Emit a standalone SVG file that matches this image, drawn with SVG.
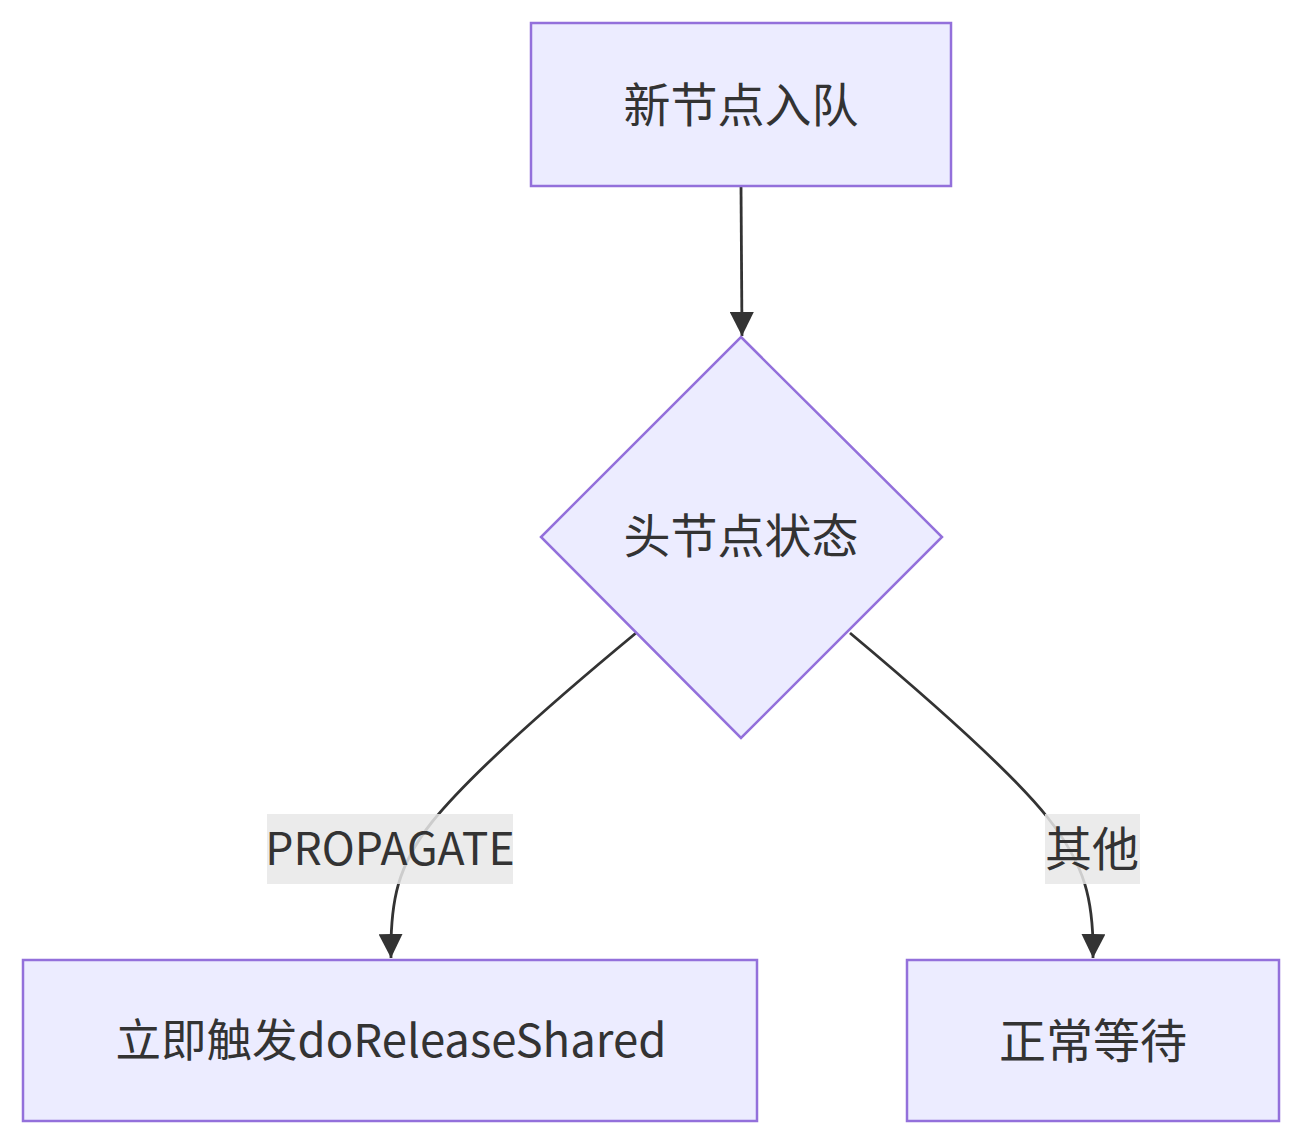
<svg xmlns="http://www.w3.org/2000/svg" width="1303" height="1146" viewBox="0 0 1303 1146">
<style>
.node{fill:#ECECFF;stroke:#9370DB;stroke-width:2.5}
.lbl{font-family:"Noto Sans CJK SC","Noto Sans",sans-serif;font-size:47px;fill:#333;text-anchor:middle;dominant-baseline:central}
.edge{fill:none;stroke:#333;stroke-width:2.8}
.ebg{fill:#e8e8e8;fill-opacity:0.85}
</style>
<defs>
<marker id="arrow" viewBox="0 0 12 12" refX="12" refY="6" markerWidth="24" markerHeight="24" markerUnits="userSpaceOnUse" orient="auto">
<path d="M0,0 L12,6 L0,12 z" fill="#333"/>
</marker>
</defs>
<rect width="1303" height="1146" fill="#fff"/>
<g id="edges">
<path class="edge" d="M741,186 L742,336" marker-end="url(#arrow)"/>
<path class="edge" d="M636,633 C555,700 470,775 432,822 C398,865 390,900 391,958" marker-end="url(#arrow)"/>
<path class="edge" d="M850,633 C930,700 1010,770 1048,818 C1085,865 1094,900 1093,958" marker-end="url(#arrow)"/>
</g>
<g id="edge-labels">
<g id="label-propagate">
<rect class="ebg" x="267" y="814" width="246" height="70"/>
<text class="lbl" x="390" y="845" style="font-size:44.5px">PROPAGATE</text>
</g>
<g id="label-other">
<rect class="ebg" x="1045" y="814" width="95" height="70"/>
<text class="lbl" x="1092" y="845">其他</text>
</g>
</g>
<g id="n-enqueue">
<rect class="node" x="531" y="23" width="420" height="163"/>
<text class="lbl" x="741" y="101">新节点入队</text>
</g>
<g id="n-headstate">
<polygon class="node" points="741,337 942,537 741,738 541,537"/>
<text class="lbl" x="741" y="532">头节点状态</text>
</g>
<g id="n-release">
<rect class="node" x="23" y="960" width="734" height="161"/>
<text class="lbl" x="391" y="1037" style="font-size:45.5px">立即触发doReleaseShared</text>
</g>
<g id="n-wait">
<rect class="node" x="907" y="960" width="372" height="161"/>
<text class="lbl" x="1093" y="1037">正常等待</text>
</g>
</svg>
